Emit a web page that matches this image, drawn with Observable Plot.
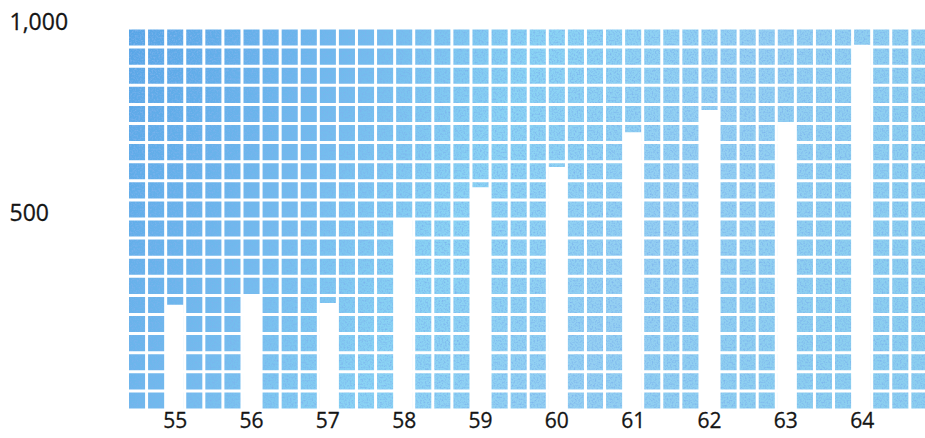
<!DOCTYPE html>
<html><head><meta charset="utf-8">
<script src="https://cdn.jsdelivr.net/npm/d3@7"></script>
<script src="https://cdn.jsdelivr.net/npm/@observablehq/plot@0.6"></script>
<style>body{margin:0;background:#fff}</style>
</head><body><div id="chart"></div>
<script>
const years = [55, 56, 57, 58, 59, 60, 61, 62, 63, 64];
const values = [274, 300, 279, 501, 582, 635, 726, 784, 750, 955];
const yTicks = [500, 1000];
const yTickLabels = ["500", "1,000"];
const rowLines = d3.range(0, 1001, 50);
const colLines = d3.range(54.375, 65, 0.25);
const data = years.map((y, i) => ({year: y, value: values[i]}));

const plot = Plot.plot({
  width: 925, height: 438,
  marginLeft: 127, marginRight: 0, marginTop: 27.5, marginBottom: 28.5,
  x: {type: "linear", domain: [54.375, 64.83], axis: null},
  y: {domain: [0, 1000], axis: null},
  style: {fontFamily: "'Open Sans', sans-serif", background: "#fff"},
  marks: [
    Plot.frame({fill: "url(#bg)", stroke: "none", ariaLabel: "bgframe"}),
    Plot.gridY(rowLines, {stroke: "#fff", strokeOpacity: 1, strokeWidth: 3}),
    Plot.gridX(colLines, {stroke: "#fff", strokeOpacity: 1, strokeWidth: 3}),
    Plot.ruleX(data, {x: "year", y1: 0, y2: "value", stroke: "#fff", strokeWidth: 17}),
    Plot.text(yTicks, {y: d => d, text: (d, i) => yTickLabels[i], frameAnchor: "left", dx: -118, dy: -5, textAnchor: "start", fontSize: 23, fill: "#151515", stroke: "#151515", strokeWidth: 0.3}),
    Plot.text(years, {x: d => d, text: d => String(d), frameAnchor: "bottom", dy: 18, fontSize: 21, fill: "#151515", stroke: "#151515", strokeWidth: 0.3})
  ]
});
plot.insertAdjacentHTML("afterbegin", `<defs>
  <linearGradient id="bg" x1="0" y1="0" x2="1" y2="0.25">
    <stop offset="0" stop-color="#58a5e6"/>
    <stop offset="0.3" stop-color="#74bcee"/>
    <stop offset="0.5" stop-color="#8ad3f4"/>
    <stop offset="0.75" stop-color="#94cff2"/>
    <stop offset="1" stop-color="#8ccff0"/>
  </linearGradient>
  <filter id="speckle" x="0" y="0" width="1" height="1">
    <feTurbulence type="fractalNoise" baseFrequency="0.6" numOctaves="2" seed="3" result="n"/>
    <feColorMatrix in="n" type="matrix" values="0 0 0 0 0.2  0 0 0 0 0.45  0 0 0 0 0.85  0 0 0 -2.2 1.25" result="dots"/>
    <feComposite in="dots" in2="SourceGraphic" operator="in" result="d2"/>
    <feMerge><feMergeNode in="SourceGraphic"/><feMergeNode in="d2"/></feMerge>
  </filter>
</defs>`);
const fr = plot.querySelector('[aria-label="bgframe"]');
if (fr) fr.setAttribute("filter", "url(#speckle)");
document.getElementById("chart").appendChild(plot);
</script>
</body></html>
